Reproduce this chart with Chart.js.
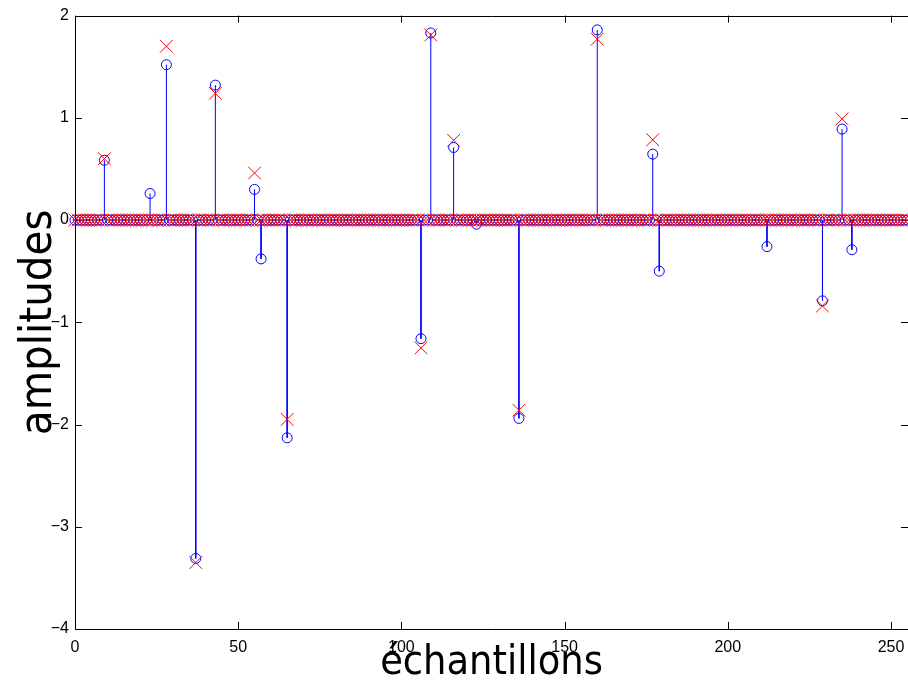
<!DOCTYPE html>
<html><head><meta charset="utf-8">
<script src="https://cdn.jsdelivr.net/npm/chart.js@4/dist/chart.umd.min.js"></script>
<style>html,body{margin:0;padding:0;background:#fff}#wrap{width:908px;height:689px;position:relative}</style>
</head><body><div id="wrap"><canvas id="c"></canvas></div>
<script>
const N = 256;
const origIdx = [9,23,28,37,43,55,57,65,106,109,116,123,136,160,177,179,212,229,235,238];
const origVals = [0.585,0.26,1.52,-3.31,1.32,0.30,-0.38,-2.13,-1.16,1.83,0.71,-0.04,-1.94,1.86,0.645,-0.50,-0.26,-0.79,0.89,-0.29];
const recIdx = [9,28,37,43,55,65,106,109,116,136,160,177,229,235];
const recVals = [0.60,1.70,-3.35,1.24,0.46,-1.95,-1.25,1.81,0.78,-1.86,1.77,0.785,-0.84,0.99];
const xTicks = [0,50,100,150,200,250];
const yTicks = [-4,-3,-2,-1,0,1,2];
const xRange = [0, 255.2];
const yRange = [-4, 2];
const xLabel = 'échantillons';
const yLabel = 'amplitudes';

const orig = new Array(N).fill(0);
origIdx.forEach((k,j)=>{orig[k]=origVals[j];});
const rec = new Array(N).fill(0);
recIdx.forEach((k,j)=>{rec[k]=recVals[j];});

const circlePts = orig.map((v,i)=>({x:i,y:v}));
const crossPts = rec.map((v,i)=>({x:i,y:v}));
const stemPts = [];
origIdx.forEach((k,j)=>{stemPts.push({x:k,y:0},{x:k,y:origVals[j]},{x:k,y:null});});

// pick a condensed title font if installed
const mctx = document.createElement('canvas').getContext('2d');
function fontAvailable(name){
  const t = 'échantillons amplitudes';
  mctx.font = '50px monospace'; const w0 = mctx.measureText(t).width;
  mctx.font = '50px "'+name+'", monospace'; const w1 = mctx.measureText(t).width;
  return Math.abs(w0-w1) > 0.5;
}
const titleFamily = ['Liberation Sans Narrow','DejaVu Sans Condensed','Lato'].find(fontAvailable) || 'Lato';
function sizeFor(text, target){
  mctx.font = '100px "'+titleFamily+'"';
  return Math.round(100*target/mctx.measureText(text).width);
}
const xTitleSize = sizeFor(xLabel, 222);
const yTitleSize = sizeFor(yLabel, 226);

const boxPlugin = {
  id:'box',
  beforeDatasetsDraw(chart){
    const {ctx, chartArea:a, scales:{x,y}} = chart;
    ctx.save();
    ctx.strokeStyle = '#000';
    ctx.lineWidth = 1;
    ctx.beginPath();
    ctx.rect(Math.round(a.left)+0.5, Math.round(a.top)+0.5, Math.round(a.right-a.left)+4, Math.round(a.bottom-a.top));
    ctx.stroke();
    const tl = 7;
    ctx.beginPath();
    xTicks.forEach(v=>{
      const px = Math.round(x.getPixelForValue(v))+0.5;
      ctx.moveTo(px, a.bottom); ctx.lineTo(px, a.bottom-tl);
      ctx.moveTo(px, a.top); ctx.lineTo(px, a.top+tl);
    });
    yTicks.forEach(v=>{
      const py = Math.round(y.getPixelForValue(v))+0.5;
      ctx.moveTo(a.left, py); ctx.lineTo(a.left+tl, py);
      ctx.moveTo(a.right, py); ctx.lineTo(a.right-tl, py);
    });
    ctx.stroke();
    ctx.restore();
  }
};

new Chart(document.getElementById('c'), {
  type:'scatter',
  data:{datasets:[
    {label:'reconstruit', data:crossPts, pointStyle:'crossRot', pointRadius:9, borderColor:'#ff0000', borderWidth:1, backgroundColor:'rgba(0,0,0,0)', showLine:false, order:0, clip:false},
    {label:'original', data:circlePts, pointStyle:'circle', pointRadius:5, borderColor:'#0000ff', borderWidth:1, backgroundColor:'rgba(0,0,0,0)', showLine:false, order:1, clip:false},
    {label:'tiges', data:stemPts, showLine:true, spanGaps:false, pointRadius:0, borderColor:'#0000ff', borderWidth:1, order:2, clip:false}
  ]},
  options:{
    responsive:true, maintainAspectRatio:false, animation:false, events:[],
    layout:{autoPadding:false, padding:{top:14,right:0,left:0,bottom:0}},
    plugins:{legend:{display:false}, tooltip:{enabled:false}},
    scales:{
      x:{type:'linear', min:xRange[0], max:xRange[1], position:'bottom',
        grid:{display:false, drawTicks:false}, border:{display:false},
        afterBuildTicks:(s)=>{s.ticks = xTicks.map(v=>({value:v}));},
        afterFit:(s)=>{s.height = 60; s.paddingLeft = 0; s.paddingRight = 0;},
        ticks:{padding:9, color:'#000', font:{family:'Liberation Sans', size:16}, maxRotation:0},
        title:{display:true, text:xLabel, color:'#000', font:{family:titleFamily, size:xTitleSize, lineHeight:1.2}, padding:{top:0,bottom:1}}
      },
      y:{type:'linear', min:yRange[0], max:yRange[1],
        grid:{display:false, drawTicks:false}, border:{display:false},
        afterBuildTicks:(s)=>{s.ticks = yTicks.map(v=>({value:v}));},
        afterFit:(s)=>{s.width = 75;},
        ticks:{padding:6, color:'#000', font:{family:'Liberation Sans', size:16}, callback:(v)=>String(v).replace('-','\u2212')},
        title:{display:true, text:yLabel, color:'#000', font:{family:titleFamily, size:yTitleSize, lineHeight:1.2}, padding:{top:12,bottom:0}}
      }
    }
  },
  plugins:[boxPlugin]
});
</script></body></html>
